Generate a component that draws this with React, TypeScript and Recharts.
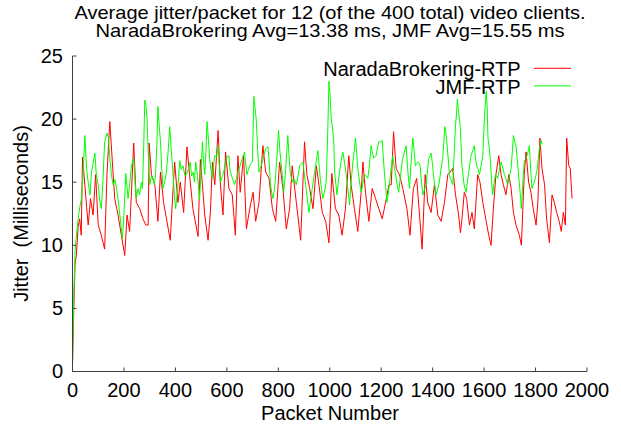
import React from 'react';
import { LineChart, Line, XAxis, YAxis, Legend, Label } from 'recharts';

const FONT = '"Liberation Sans", Arial, Helvetica, sans-serif';
const BORDER = '#404040';

const titleLines = [
  'Average jitter/packet for 12 (of the 400 total) video clients.',
  'NaradaBrokering Avg=13.38 ms, JMF Avg=15.55 ms',
];
const seriesNames = ['NaradaBrokering-RTP', 'JMF-RTP'];
const seriesColors = ['#ff0000', '#00ff00'];
const xTicks = [0, 200, 400, 600, 800, 1000, 1200, 1400, 1600, 1800, 2000];
const yTicks = [0, 5, 10, 15, 20, 25];

const redPackets = [
  0, 5, 10, 15, 22, 28, 34, 39, 48, 55, 61, 70, 80, 90, 100, 112, 125, 134, 145, 155,
  164, 177, 190, 203, 212, 222, 238, 248, 261, 274, 285, 294, 298, 307, 320, 332, 342, 354, 367, 380,
  397, 410, 419, 432, 445, 455, 468, 488, 497, 505, 514, 527, 536, 544, 553, 566, 575, 585, 595, 608,
  621, 633, 643, 652, 665, 676, 689, 702, 712, 725, 740, 751, 764, 777, 790, 805, 818, 831, 844, 854,
  870, 887, 902, 911, 922, 935, 948, 958, 971, 984, 997, 1008, 1022, 1035, 1048, 1061, 1074, 1083, 1096, 1109,
  1122, 1129, 1139, 1152, 1165, 1178, 1191, 1204, 1217, 1230, 1239, 1248, 1258, 1271, 1284, 1300, 1312, 1325, 1338, 1349,
  1359, 1371, 1381, 1394, 1407, 1420, 1433, 1446, 1459, 1468, 1478, 1489, 1501, 1508, 1514, 1523, 1532, 1543, 1553, 1562,
  1575, 1584, 1595, 1608, 1618, 1627, 1636, 1646, 1657, 1666, 1675, 1685, 1696, 1705, 1714, 1724, 1737, 1745, 1756, 1763,
  1773, 1782, 1791, 1802, 1809, 1817, 1825, 1835, 1843, 1854, 1864, 1873, 1882, 1892, 1900, 1908, 1916, 1921, 1929, 1935,
  1942,
];
const redJitter = [
  0.5, 5, 8.5, 9.2, 11.5, 12.1, 10.8, 17, 14.8, 13, 11.6, 13.7, 12.4, 15.6, 11.6, 10.8, 9.7, 15.6, 19.8, 16.6,
  13.7, 12.4, 10.8, 9.2, 12.4, 11.1, 18.1, 13.4, 12.9, 12.1, 11.6, 11.6, 18.1, 15.6, 14.8, 11.9, 15.8, 13.4, 11.9, 10.4,
  16.6, 13.4, 15, 12.6, 17.8, 15.6, 12.9, 10.7, 16.8, 14.8, 12.4, 10.4, 12.6, 16.6, 14.8, 19.1, 14.8, 12.4, 17.4, 14.5,
  14, 10.8, 17.1, 14.2, 17.1, 11.3, 12.9, 14.2, 11.9, 13.4, 17.9, 15.8, 15.3, 12.9, 11.9, 16.6, 14.5, 11.3, 12.9, 16.3,
  13.4, 10.4, 18.2, 15.6, 14.5, 12.9, 16.3, 14.8, 12.6, 11.9, 10.2, 15.7, 12.9, 12.4, 10.8, 12.9, 17.1, 14.8, 12.9, 11.1,
  14.2, 16.6, 14.2, 11.9, 14.5, 13.7, 12.9, 12.1, 13.4, 14.8, 14.8, 19, 16.1, 15.6, 14.5, 12.9, 10.8, 14.5, 15.3, 12.4,
  9.7, 15.6, 13.4, 12.6, 14.8, 12.4, 11.9, 13.4, 15.6, 15.8, 16.1, 14, 12.4, 11, 12.1, 14.2, 13.7, 11.6, 12.6, 11.3,
  15.6, 15, 13.4, 11.9, 10.8, 10, 12.9, 15.6, 17.1, 15.6, 14.8, 14, 15.6, 14.5, 12.6, 11.6, 10.8, 10, 15.6, 17.4,
  15, 14.2, 12.9, 11.6, 13.4, 18.5, 16.1, 14.8, 12.1, 10.2, 14, 13.4, 12.6, 11.9, 11.1, 12.6, 11.6, 18.5, 16.3, 16.1,
  13.7,
];

const greenPackets = [
  0, 5, 10, 16, 22, 28, 35, 42, 48, 55, 61, 68, 74, 80, 87, 93, 100, 106, 112, 118,
  125, 134, 140, 145, 152, 158, 165, 171, 178, 184, 194, 200, 207, 216, 223, 229, 238, 243, 248, 255,
  261, 268, 272, 277, 281, 286, 290, 295, 300, 307, 313, 318, 323, 328, 332, 337, 342, 347, 352, 358,
  365, 372, 378, 384, 391, 396, 401, 409, 417, 423, 430, 437, 443, 450, 458, 463, 469, 474, 479, 486,
  494, 500, 505, 510, 514, 519, 523, 528, 533, 538, 544, 549, 553, 560, 566, 570, 575, 580, 585, 590,
  595, 601, 608, 612, 617, 623, 630, 636, 643, 650, 656, 662, 669, 673, 678, 684, 689, 694, 699, 702,
  705, 709, 714, 720, 725, 731, 738, 745, 751, 760, 765, 769, 774, 779, 785, 790, 796, 801, 806, 812,
  817, 821, 828, 833, 837, 842, 847, 852, 857, 863, 870, 877, 883, 890, 896, 901, 906, 912, 919, 925,
  932, 939, 945, 950, 954, 958, 963, 968, 973, 980, 986, 991, 997, 1001, 1006, 1010, 1016, 1019, 1024, 1028,
  1033, 1038, 1045, 1051, 1058, 1064, 1070, 1077, 1083, 1090, 1095, 1100, 1105, 1109, 1116, 1122, 1128, 1135, 1141, 1148,
  1155, 1161, 1166, 1171, 1176, 1180, 1186, 1191, 1197, 1204, 1208, 1213, 1218, 1222, 1227, 1232, 1238, 1245, 1250, 1256,
  1262, 1268, 1275, 1281, 1289, 1297, 1303, 1310, 1316, 1323, 1328, 1333, 1338, 1342, 1347, 1351, 1357, 1362, 1368, 1375,
  1380, 1385, 1390, 1394, 1399, 1403, 1408, 1413, 1420, 1426, 1432, 1439, 1443, 1447, 1451, 1455, 1460, 1465, 1471, 1478,
  1483, 1489, 1493, 1496, 1501, 1507, 1514, 1522, 1530, 1535, 1540, 1545, 1549, 1556, 1562, 1566, 1571, 1577, 1582, 1588,
  1595, 1601, 1608, 1612, 1615, 1620, 1624, 1628, 1633, 1638, 1644, 1649, 1653, 1660, 1666, 1672, 1679, 1686, 1692, 1699,
  1705, 1710, 1714, 1719, 1724, 1729, 1734, 1740, 1745, 1750, 1756, 1762, 1767, 1772, 1776, 1781, 1786, 1793, 1799, 1804,
  1808, 1815, 1822, 1826,
];
const greenJitter = [
  0.8, 6, 9.5, 11, 12.1, 13, 13.7, 16, 18.7, 16, 15, 14, 15.8, 16.5, 17.3, 15.5, 14.8, 13.5, 12.9, 15,
  18.2, 18.9, 18.5, 16.9, 15.5, 14.8, 15.2, 14.5, 13.5, 12.4, 10.5, 12.5, 15.7, 13.7, 15, 16.3, 16.9, 15, 13.7, 14.5,
  14, 15, 14.5, 18, 21.5, 21, 20, 17, 14.8, 15.5, 15.3, 14.8, 15.6, 18, 21, 19.5, 18.2, 16, 14.5, 15,
  15.8, 17.5, 19.4, 17.5, 15.6, 14, 12.9, 14.5, 16.7, 16, 16.3, 15.5, 15.6, 16, 16.6, 15.5, 15.8, 15, 16.6, 15.5,
  13.6, 16, 18.2, 16.5, 15.6, 17.5, 19.8, 18.5, 16.9, 16, 15.3, 16.5, 17.1, 17, 17.9, 16.5, 15, 15.3, 15.6, 16,
  16.6, 17, 17.1, 16, 15.6, 15.2, 14.8, 15.2, 15.8, 16.2, 16.6, 17, 17.4, 16.5, 15.6, 16, 16.3, 16.5, 16.6, 19,
  21.8, 21, 20, 17.5, 15.8, 16.2, 16.6, 17.2, 17.7, 17.8, 16.5, 15, 14.2, 13.7, 14.5, 15.6, 17.5, 19.1, 17.5, 16.3,
  15.2, 14.2, 15.8, 17.5, 18.7, 17, 15.6, 15.3, 15, 15.2, 14.8, 15.5, 16.3, 16.5, 16.6, 15.7, 14.8, 13.8, 12.6, 13.5,
  14.5, 15.5, 16.3, 17, 17.5, 16.5, 15.3, 14.5, 13.7, 14.3, 15, 18, 23, 22, 20, 19.5, 18, 15.8, 14.8, 14,
  15, 15.8, 16.8, 17.4, 16.5, 15.6, 14.5, 13.2, 15, 16.6, 17.5, 18.5, 17.2, 16.1, 15, 14.2, 14.8, 15.6, 15.5, 15.3,
  16.5, 17.9, 17.3, 16.9, 17, 17.1, 17.8, 18.2, 18.2, 18.3, 17, 15.6, 14.5, 13.4, 14, 14.8, 16, 17.1, 16.3, 15.6,
  14.8, 14.2, 15.5, 16.6, 17.3, 17.9, 16, 14.5, 16.5, 18.5, 17.5, 16.3, 16.5, 16.6, 16.5, 16.3, 15, 14, 14.4, 14.8,
  16, 16.9, 17.1, 17.3, 16.5, 15.6, 14.8, 14, 14.5, 15, 16, 16.9, 18, 19.4, 19, 18.2, 17, 15.6, 15.2, 14.8,
  17, 19.5, 20.5, 21.6, 20.5, 19.5, 16.3, 14.8, 14.2, 15, 15.8, 16.5, 17.1, 17.5, 17.9, 17, 16.3, 16, 15.6, 16.3,
  17.1, 20, 22.2, 21, 18.5, 17.7, 16.9, 15.5, 14, 14.8, 15.6, 15.5, 15.3, 16, 16.6, 16.2, 15.6, 15.2, 14.8, 15.5,
  16.1, 17.5, 18.7, 18.2, 17.9, 16.8, 15.6, 14.2, 12.9, 14.8, 16.6, 16.9, 17.1, 17.5, 17.9, 16, 14.5, 14.9, 15.3, 15.8,
  16.3, 17.7, 18.3, 18,
];

const redData = redPackets.map((p, i) => ({ packet: p, jitter: redJitter[i] }));
const greenData = greenPackets.map((p, i) => ({ packet: p, jitter: greenJitter[i] }));

const textStyle = { fontFamily: FONT, fontSize: 20, fill: '#000' };

const BottomTick = (props: any) => {
  const { x, y, payload } = props;
  return (
    <g>
      <line x1={x} y1={y} x2={x} y2={y - 4} stroke={BORDER} />
      <text x={x} y={y + 25.5} textAnchor="middle" {...textStyle}>{payload.value}</text>
    </g>
  );
};
const TopTick = (props: any) => {
  const { x, y } = props;
  return <line x1={x} y1={y} x2={x} y2={y + 4} stroke={BORDER} />;
};
const LeftTick = (props: any) => {
  const { x, y, payload } = props;
  return (
    <g>
      <line x1={x} y1={y} x2={x + 4} y2={y} stroke={BORDER} />
      <text x={x - 9.5} y={y + 6.8} textAnchor="end" {...textStyle}>{payload.value}</text>
    </g>
  );
};
const RightTick = (props: any) => {
  const { x, y } = props;
  return <line x1={x} y1={y} x2={x - 4} y2={y} stroke={BORDER} />;
};

const renderLegend = (props: any) => {
  const items = [...(props.payload || [])].sort(
    (a: any, b: any) => seriesNames.indexOf(a.value) - seriesNames.indexOf(b.value)
  );
  return (
    <svg width={290} height={45} style={{ display: 'block', overflow: 'visible' }}>
      {items.map((it: any, i: number) => (
        <g key={it.value}>
          <text x={220.7} y={20 + i * 17.6} textAnchor="end" {...textStyle}>{it.value}</text>
          <line x1={234} x2={271} y1={12.3 + i * 17.6} y2={12.3 + i * 17.6} stroke={it.color} strokeWidth={1} />
        </g>
      ))}
    </svg>
  );
};

export default function App() {
  return (
    <div style={{ position: 'absolute', left: 0, top: 0, width: 621, height: 428, background: '#fff' }}>
      <svg width={621} height={428} style={{ position: 'absolute', left: 0, top: 0 }}>
        <text x={330} y={19} textAnchor="middle" textLength={511} lengthAdjust="spacingAndGlyphs" {...textStyle} fontSize={18.5}>{titleLines[0]}</text>
        <text x={330} y={37} textAnchor="middle" textLength={469} lengthAdjust="spacingAndGlyphs" {...textStyle} fontSize={18.5}>{titleLines[1]}</text>
      </svg>
      <div style={{ position: 'absolute', left: 0, top: 0 }}>
        <LineChart width={621} height={428} margin={{ top: 56, right: 34, bottom: 0, left: 0 }}>
          <XAxis
            xAxisId="bottom"
            dataKey="packet"
            type="number"
            domain={[0, 2000]}
            ticks={xTicks}
            interval={0}
            height={56.5}
            tickSize={0}
            tickMargin={0}
            tickLine={false}
            axisLine={{ stroke: BORDER }}
            tick={<BottomTick />}
            allowDataOverflow
          >
            <Label
              content={() => (
                <text x={330} y={420} textAnchor="middle" {...textStyle}>Packet Number</text>
              )}
            />
          </XAxis>
          <XAxis
            xAxisId="top"
            orientation="top"
            dataKey="packet"
            type="number"
            domain={[0, 2000]}
            ticks={xTicks}
            interval={0}
            height={0}
            tickSize={0}
            tickMargin={0}
            tickLine={false}
            axisLine={{ stroke: BORDER }}
            tick={<TopTick />}
            allowDataOverflow
          />
          <YAxis
            yAxisId="left"
            type="number"
            domain={[0, 25]}
            ticks={yTicks}
            interval={0}
            width={72.5}
            tickSize={0}
            tickMargin={0}
            tickLine={false}
            axisLine={{ stroke: BORDER }}
            tick={<LeftTick />}
            allowDataOverflow
          >
            <Label
              content={() => (
                <text
                  transform="translate(28,213.5) rotate(-90)"
                  textAnchor="middle"
                  style={{ whiteSpace: 'pre' }}
                  {...textStyle}
                >
                  {'Jitter  (Milliseconds)'}
                </text>
              )}
            />
          </YAxis>
          <YAxis
            yAxisId="right"
            orientation="right"
            type="number"
            domain={[0, 25]}
            ticks={yTicks}
            interval={0}
            width={0}
            tickSize={0}
            tickMargin={0}
            tickLine={false}
            axisLine={{ stroke: BORDER }}
            tick={<RightTick />}
            allowDataOverflow
          />
          <Line
            xAxisId="bottom"
            yAxisId="left"
            data={redData}
            dataKey="jitter"
            name={seriesNames[0]}
            stroke={seriesColors[0]}
            strokeWidth={1}
            dot={false}
            activeDot={false}
            isAnimationActive={false}
          />
          <Line
            xAxisId="bottom"
            yAxisId="left"
            data={greenData}
            dataKey="jitter"
            name={seriesNames[1]}
            stroke={seriesColors[1]}
            strokeWidth={1}
            dot={false}
            activeDot={false}
            isAnimationActive={false}
          />
          <Legend
            layout="vertical"
            align="center"
            verticalAlign="middle"
            content={renderLegend}
            wrapperStyle={{ position: 'absolute', left: 300, top: 56, width: 290, height: 45 }}
          />
        </LineChart>
      </div>
    </div>
  );
}
